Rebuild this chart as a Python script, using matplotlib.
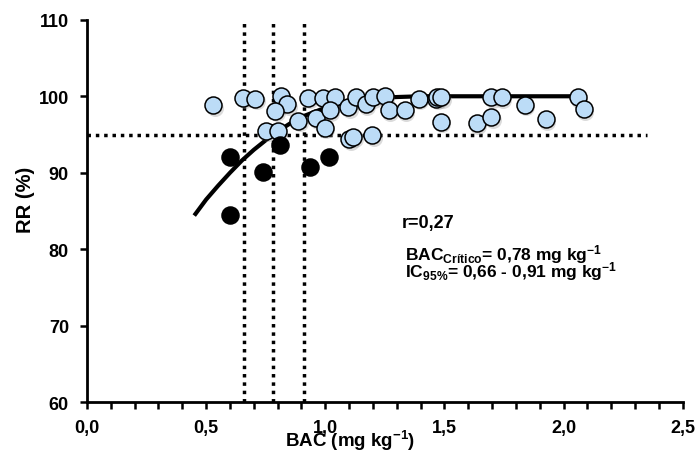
import numpy as np
import matplotlib
matplotlib.use("Agg")
import matplotlib.pyplot as plt

# --- Data ---
# points above the 95% line (light blue)
bac_ok = [0.53, 0.655, 0.707, 0.816, 0.84, 0.79, 0.753, 0.80, 0.886, 0.928,
          0.963, 0.998, 0.99, 1.04, 1.019, 1.096, 1.10, 1.117, 1.13, 1.198,
          1.17, 1.20, 1.25, 1.266, 1.333, 1.393, 1.466, 1.47, 1.487, 1.484,
          1.636, 1.697, 1.697, 1.74, 1.837, 1.925, 2.06, 2.085]
rr_ok = [98.8, 99.8, 99.7, 100.0, 98.95, 98.1, 95.5, 95.4, 96.8, 99.8,
         97.1, 95.9, 99.8, 99.9, 98.2, 98.6, 94.4, 94.7, 99.9, 94.9,
         98.95, 99.9, 100.0, 98.2, 98.2, 99.7, 99.7, 99.9, 99.9, 96.7,
         96.5, 97.3, 99.9, 99.9, 98.9, 97.0, 99.9, 98.3]

# points below the line (black)
bac_low = [0.60, 0.60, 0.74, 0.81, 0.935, 1.015]
rr_low = [92.0, 84.5, 90.1, 93.6, 90.8, 92.0]

# fitted response curve
curve_x = [0.45, 0.50, 0.55, 0.60, 0.65, 0.70, 0.78, 0.85, 0.90, 1.00,
           1.10, 1.20, 1.30, 1.40, 2.07]
curve_y = [84.4, 86.5, 88.3, 90.0, 91.6, 93.0, 95.0, 96.4, 97.3, 98.5,
           99.3, 99.7, 99.9, 100.0, 100.0]

bac_crit = [0.66, 0.78, 0.91]
rr_limit = 95

plt.rcParams['font.family'] = ['Liberation Sans', 'DejaVu Sans']
plt.rcParams['font.weight'] = 'bold'
plt.rcParams['mathtext.fontset'] = 'custom'
plt.rcParams['mathtext.rm'] = 'Liberation Sans:bold'
plt.rcParams['mathtext.bf'] = 'Liberation Sans:bold'
plt.rcParams['mathtext.it'] = 'Liberation Sans:bold'

fig = plt.figure(figsize=(6.96, 4.52), dpi=100)
ax = fig.add_axes([0.125, 0.108, 0.856, 0.846])

dots = (0, (1, 1.4))
for x in bac_crit:
    ax.plot([x, x], [60, 110], color='black', lw=2.5, linestyle=dots, zorder=1)
ax.plot([0, 2.35], [rr_limit, rr_limit], color='black', lw=2.5, linestyle=dots, zorder=1)

ax.plot(curve_x, curve_y, color='black', lw=3, zorder=2, solid_capstyle='butt')

# soft shadow under the markers
ax.scatter(np.array(bac_ok) + 0.006, np.array(rr_ok) - 0.35, s=150, color='#999999',
           alpha=0.35, linewidths=0, zorder=2.5)
ax.scatter(bac_ok, rr_ok, s=150, color='#bcdcf7', edgecolors='black', linewidths=1.1, zorder=3)
ax.scatter(bac_low, rr_low, s=150, color='black', edgecolors='black', linewidths=1.1, zorder=4)

ax.set_xlim(0, 2.5)
ax.set_ylim(60, 110)
ax.set_xticks(np.arange(0, 2.51, 0.5))
ax.set_xticks(np.arange(0, 2.51, 0.1), minor=True)
ax.set_xticklabels(['0,0', '0,5', '1,0', '1,5', '2,0', '2,5'], fontsize=13, fontweight='bold')
ax.set_yticks(range(60, 111, 10))
ax.set_yticklabels([str(v) for v in range(60, 111, 10)], fontsize=13, fontweight='bold')

for side in ['top', 'right']:
    ax.spines[side].set_visible(False)
for side in ['left', 'bottom']:
    ax.spines[side].set_linewidth(2)
ax.tick_params(axis='both', which='both', direction='out', width=1.8, length=5, color='black')
ax.tick_params(axis='x', which='major', pad=7)
ax.tick_params(axis='y', which='major', pad=8)

ax.set_xlabel(r'BAC (mg kg$^{-1}$)', fontsize=13.5, fontweight='bold')
ax.xaxis.set_label_coords(0.442, -0.068)
ax.set_ylabel('RR (%)', fontsize=14.5, fontweight='bold')
ax.yaxis.set_label_coords(-0.087, 0.531)

ax.text(1.32, 82.85, 'r=0,27', fontsize=13, fontweight='bold', va='baseline')
ax.text(1.333, 78.67, r'BAC$_{\mathrm{Crítico}}$= 0,78 mg kg$^{\mathrm{-1}}$',
        fontsize=12.5, fontweight='bold', va='baseline')
ax.text(1.333, 76.44, r'IC$_{\mathrm{95\%}}$= 0,66 - 0,91 mg kg$^{\mathrm{-1}}$',
        fontsize=12.5, fontweight='bold', va='baseline')

fig.savefig('out.png', dpi=100)
